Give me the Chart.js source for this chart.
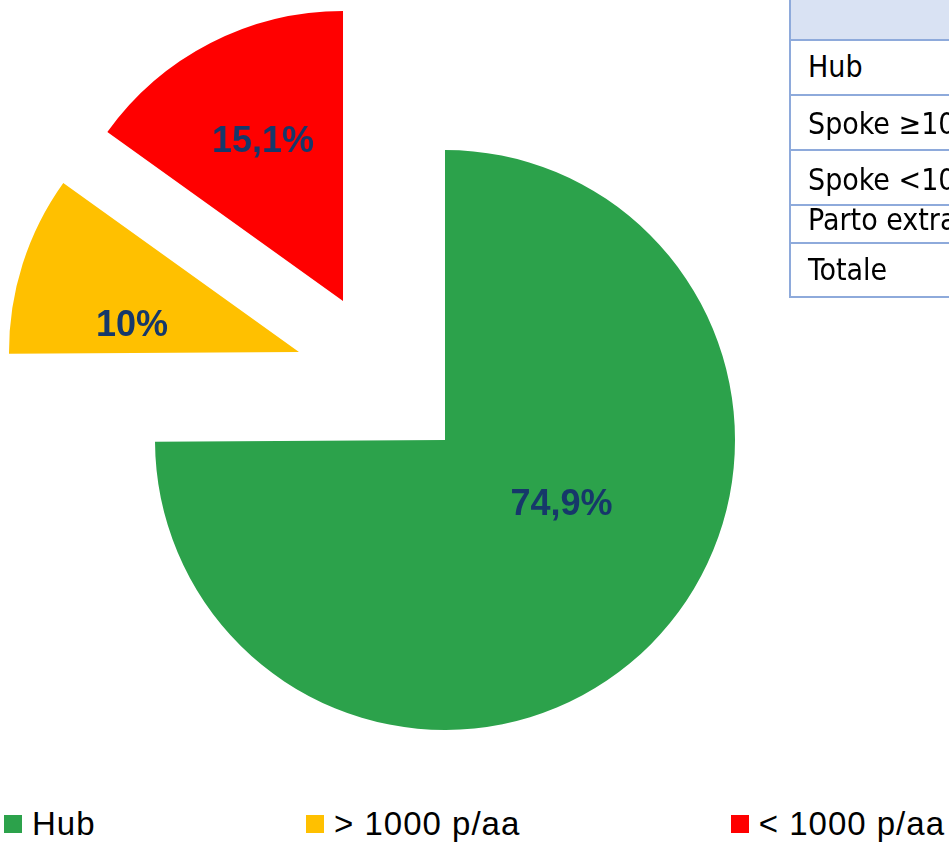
<!DOCTYPE html>
<html>
<head>
<meta charset="utf-8">
<script src="https://cdn.jsdelivr.net/npm/chart.js@4.4.1/dist/chart.umd.min.js"></script>
<style>
  html, body { margin: 0; padding: 0; background: #fff; overflow: hidden; width: 949px; height: 842px; }
  #wrap { position: absolute; left: 0; top: 0; width: 949px; height: 790px; }
  #legend { position: absolute; left: 0; top: 807px; width: 949px; height: 33px; box-sizing: border-box;
            padding: 0 4px; display: flex; justify-content: space-between; align-items: center;
            font-family: "Liberation Sans", Arial, sans-serif; font-size: 33px; color: #000; }
  .li { display: flex; align-items: center; line-height: 33px; white-space: nowrap; letter-spacing: 1px; }
  .sw { width: 18px; height: 18px; margin-right: 10px; flex: none; }
  #tbl { position: absolute; left: 789px; top: 0; width: 420px; height: 300px;
         font-family: "DejaVu Sans Condensed", "DejaVu Sans", sans-serif; font-stretch: condensed;
         font-size: 30px; color: #000; }
  .hl { position: absolute; left: 0; width: 420px; height: 2px; background: #8EAADB; }
  .vl { position: absolute; left: 0; top: 0; width: 2px; background: #8EAADB; }
  .row { position: absolute; left: 2px; width: 418px; overflow: hidden; background: #fff; }
  .row span { position: absolute; left: 17px; line-height: 30px; white-space: nowrap; }
</style>
</head>
<body>
<div id="wrap"><canvas id="c"></canvas></div>
<div id="tbl"></div>
<div id="legend"></div>
<script>
// ---- data ----
const categories = ["Hub", "> 1000 p/aa", "< 1000 p/aa"];
const shares = [74.9, 10, 15.1];
const tableRows = ["Hub", "Spoke \u22651000 p/aa", "Spoke <1000 p/aa", "Parto extraospedaliero", "Totale"];

// ---- styles ----
const colors = ["#2CA24B", "#FFC000", "#FF0000"];
const explodeDist = [0, 170.5, 172.4];
const explodeTilt = [0, 13.44, -9.09];
const labelFrac = [0.461, 0.583, 0.614];
const labelTilt = [-15.5, -8.8, 0.5];
const tableLines = [39, 94, 149, 204, 242, 296];
const tableBaselines = [77, 134, 190, 230, 280];

function fmt(v) { return String(v).replace('.', ',') + '%'; }

function shiftOf(arc, i) {
  const mid = (arc.startAngle + arc.endAngle) / 2 + explodeTilt[i] * Math.PI / 180;
  return [Math.cos(mid) * explodeDist[i], Math.sin(mid) * explodeDist[i]];
}

const explodePlugin = {
  id: 'explodeLabels',
  beforeDatasetDraw(chart, args) {
    const ctx = chart.ctx;
    args.meta.data.forEach((arc, i) => {
      const [dx, dy] = shiftOf(arc, i);
      ctx.save();
      ctx.translate(dx, dy);
      arc.draw(ctx, chart.chartArea);
      ctx.restore();
    });
    return false;
  },
  afterDatasetsDraw(chart) {
    const ctx = chart.ctx;
    const meta = chart.getDatasetMeta(0);
    ctx.save();
    ctx.font = 'bold 36px "Liberation Sans", Arial, sans-serif';
    ctx.fillStyle = '#16386A';
    ctx.textAlign = 'center';
    ctx.textBaseline = 'middle';
    meta.data.forEach((arc, i) => {
      const [dx, dy] = shiftOf(arc, i);
      const a = (arc.startAngle + arc.endAngle) / 2 + labelTilt[i] * Math.PI / 180;
      const r = arc.outerRadius * labelFrac[i];
      ctx.fillText(fmt(shares[i]), arc.x + dx + Math.cos(a) * r, arc.y + dy + Math.sin(a) * r);
    });
    ctx.restore();
  }
};

new Chart(document.getElementById('c'), {
  type: 'pie',
  data: {
    labels: categories,
    datasets: [{ data: shares, backgroundColor: colors, borderWidth: 0, radius: 290 }]
  },
  options: {
    responsive: true,
    maintainAspectRatio: false,
    animation: false,
    layout: { padding: { left: 0, right: 59, top: 90, bottom: 0 } },
    plugins: { legend: { display: false }, tooltip: { enabled: false } }
  },
  plugins: [explodePlugin]
});

// legend
const lg = document.getElementById('legend');
categories.forEach((c, i) => {
  const it = document.createElement('div');
  it.className = 'li';
  const sw = document.createElement('span');
  sw.className = 'sw';
  sw.style.background = colors[i];
  const tx = document.createElement('span');
  tx.textContent = c;
  it.appendChild(sw); it.appendChild(tx);
  lg.appendChild(it);
});

// table
const tb = document.getElementById('tbl');
const hdr = document.createElement('div');
hdr.className = 'row';
hdr.style.top = '0px';
hdr.style.height = tableLines[0] + 'px';
hdr.style.background = '#D9E2F3';
tb.appendChild(hdr);
tableRows.forEach((t, i) => {
  const top = tableLines[i] + 2;
  const row = document.createElement('div');
  row.className = 'row';
  row.style.top = top + 'px';
  row.style.height = (tableLines[i + 1] - tableLines[i] - 2) + 'px';
  const s = document.createElement('span');
  s.textContent = t;
  s.style.top = (tableBaselines[i] - 25.4 - top) + 'px';
  row.appendChild(s);
  tb.appendChild(row);
});
tableLines.forEach(y => {
  const l = document.createElement('div');
  l.className = 'hl';
  l.style.top = y + 'px';
  tb.appendChild(l);
});
const vl = document.createElement('div');
vl.className = 'vl';
vl.style.height = (tableLines[tableLines.length - 1] + 2) + 'px';
tb.appendChild(vl);
</script>
</body>
</html>
